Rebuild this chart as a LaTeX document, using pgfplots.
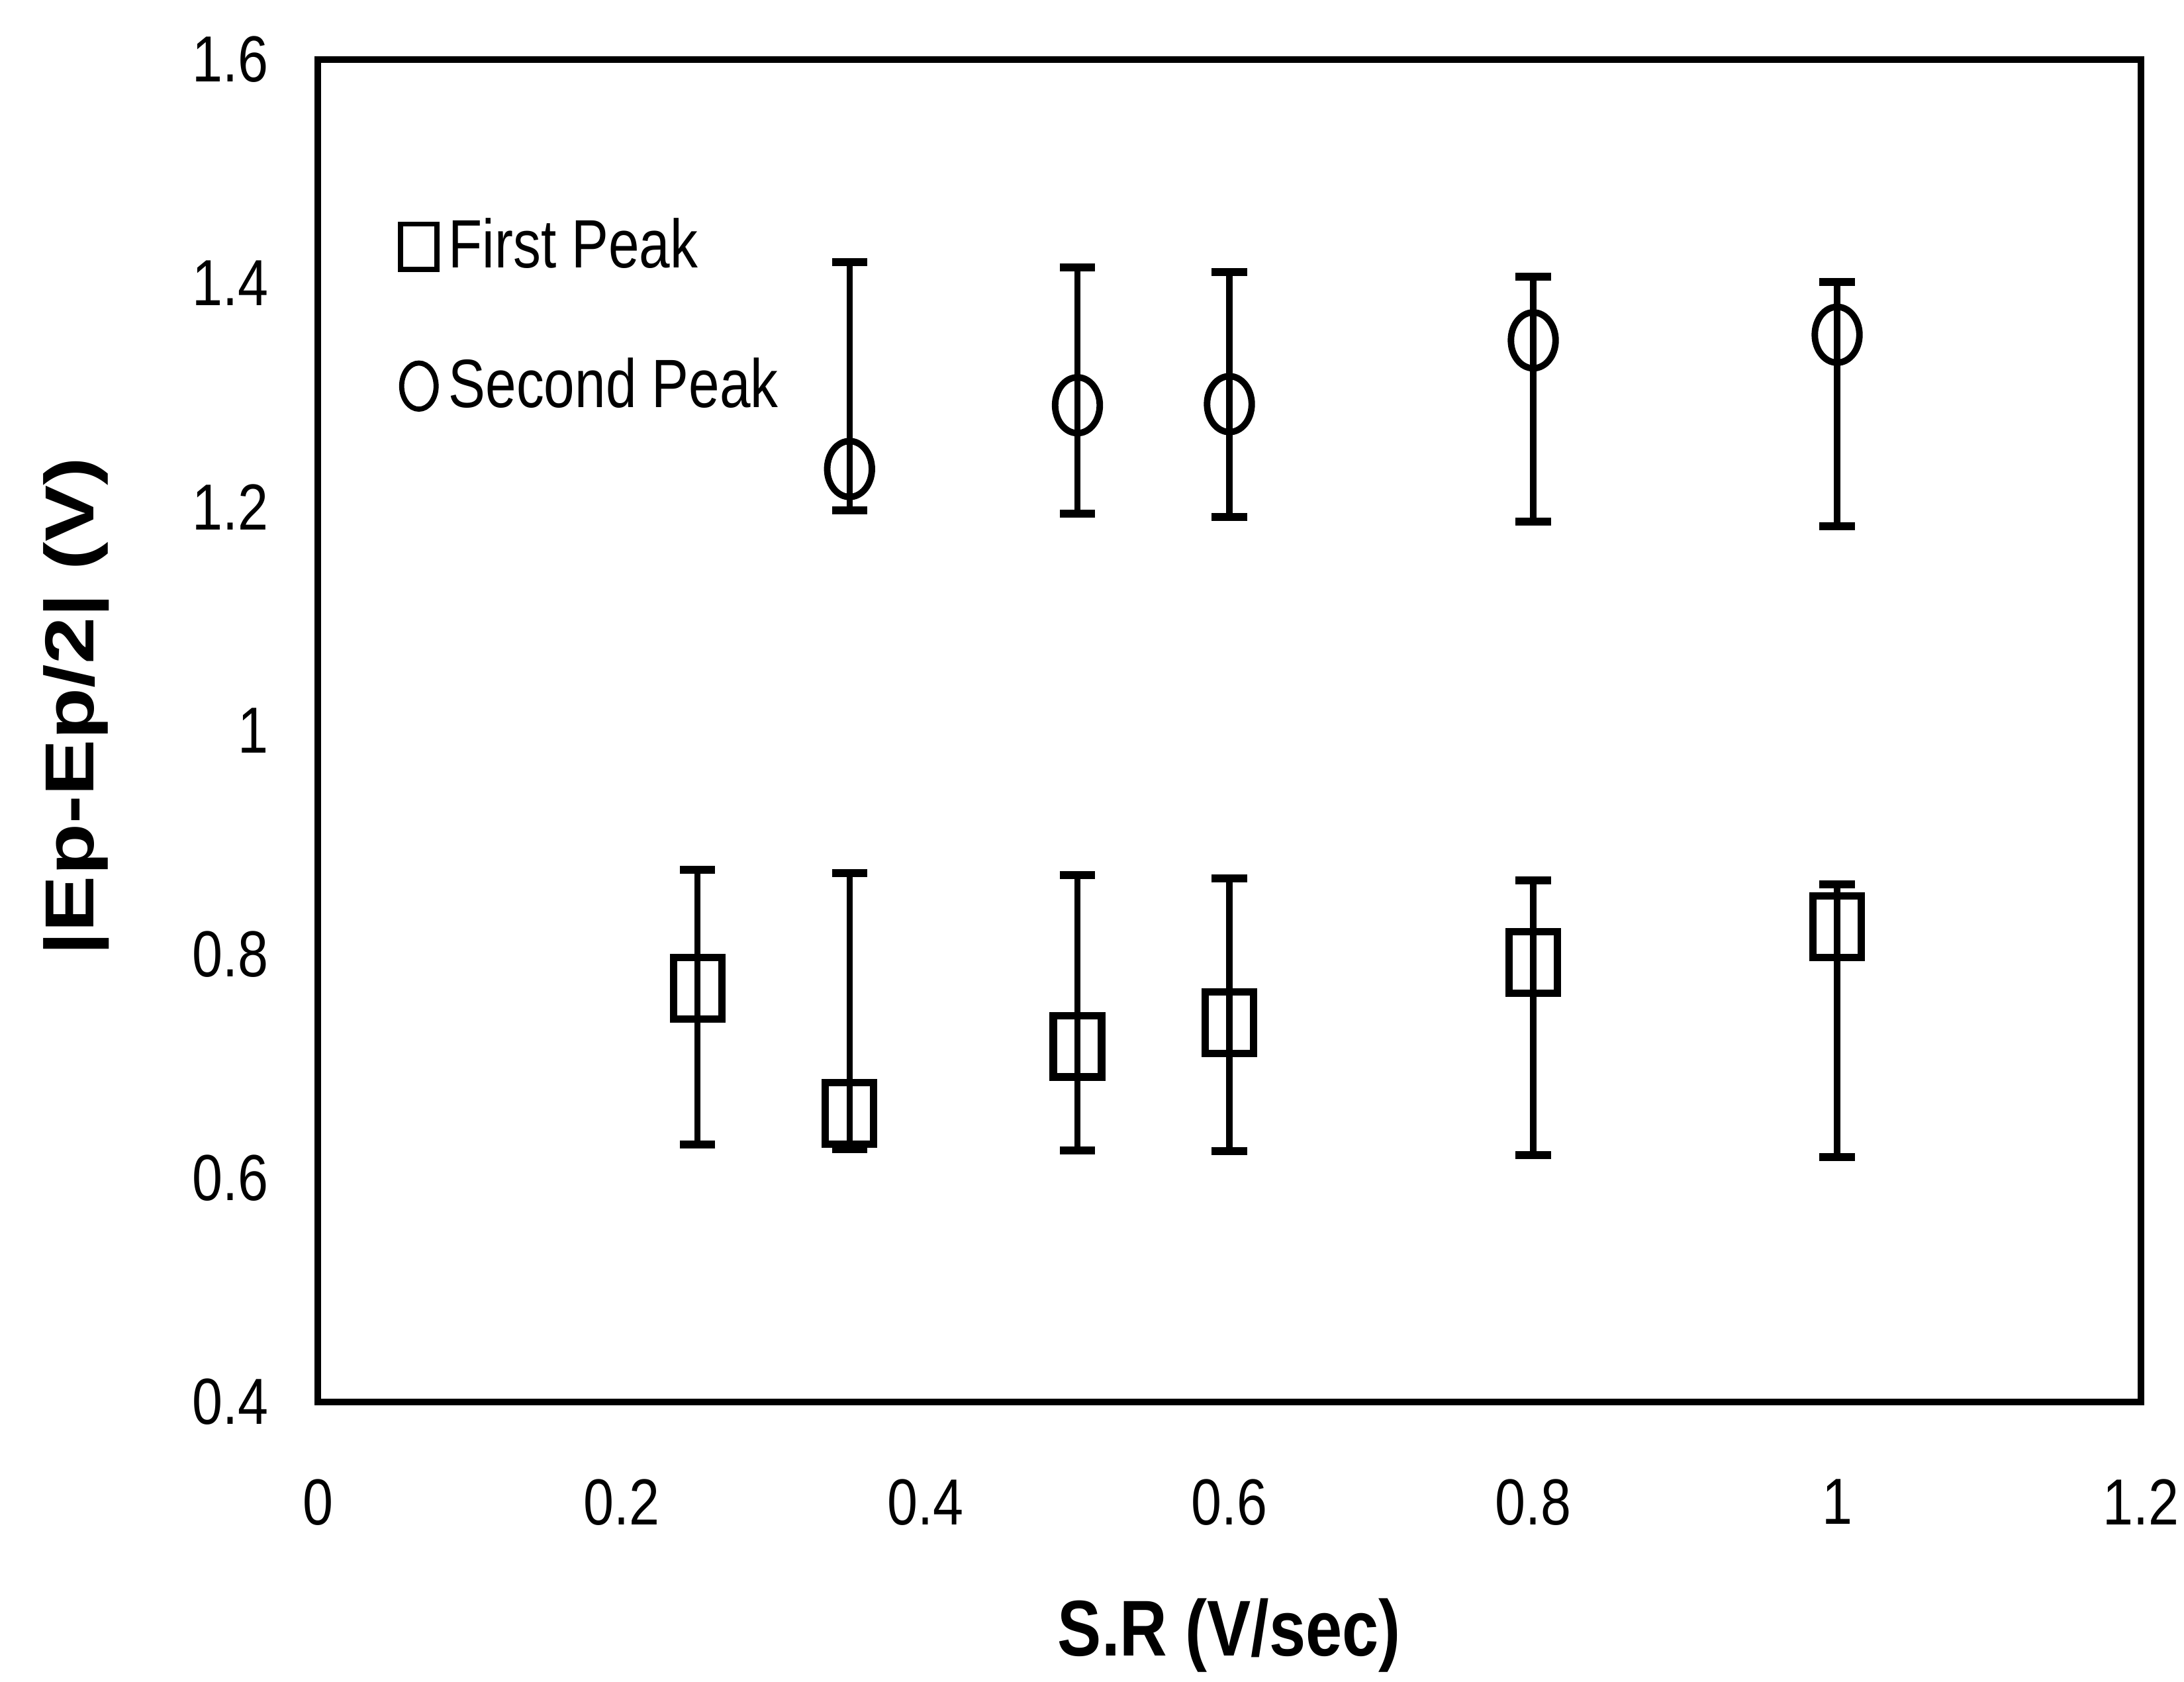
\documentclass[border=0pt]{standalone}
\usepackage{fontspec}
\setmainfont{Liberation Sans}[FakeStretch=0.84]
\newfontfamily\legendfont{Liberation Sans}[FakeStretch=0.81]
\newfontfamily\xlabelfont{Liberation Sans}[FakeStretch=0.83]
\newfontfamily\ylabelfont{Liberation Sans}[FakeStretch=1.22]
\usepackage{pgfplots}
\usepackage{pgfplotstable}
\pgfplotsset{compat=1.18}

\pgfplotstableread{
x     y      ep     em
0.25  0.770  0.106  0.140
0.35  0.658  0.215  0.032
0.50  0.718  0.153  0.093
0.60  0.739  0.129  0.115
0.80  0.793  0.073  0.172
1.00  0.825  0.038  0.206
}\firstpeak

\pgfplotstableread{
x     y      ep     em
0.35  1.234  0.185  0.037
0.50  1.291  0.123  0.097
0.60  1.292  0.118  0.101
0.80  1.349  0.057  0.162
1.00  1.354  0.047  0.171
}\secondpeak

\begin{document}
\begin{tikzpicture}
\path[use as bounding box] (-2.4,-2.11) rectangle (14.095,10.59);
\begin{axis}[
  at={(0,0)}, anchor=south west,
  scale only axis, width=13.77cm, height=10.14cm,
  xmin=0, xmax=1.2, ymin=0.4, ymax=1.6,
  xtick={0,0.2,0.4,0.6,0.8,1,1.2},
  ytick={0.4,0.6,0.8,1,1.2,1.4,1.6},
  major tick length=0pt,
  axis line style={line width=1.3pt},
  /pgf/number format/assume math mode=true,
  tick label style={font=\fontsize{14}{14}\selectfont},
  xticklabel style={yshift=-0.46cm},
  yticklabel style={xshift=-0.25cm},
  xlabel={S.R (V/sec)},
  ylabel={|Ep-Ep/2| (V)},
  xlabel style={at={(axis description cs:0.5,-0.174)},anchor=center,font=\xlabelfont\bfseries\fontsize{17}{17}\selectfont},
  ylabel style={at={(axis description cs:-0.1325,0.518)},anchor=center,font=\ylabelfont\bfseries\fontsize{14.9}{14.9}\selectfont},
  legend style={draw=none, fill=none, inner sep=0pt,
    at={(axis description cs:0.045,0.891)}, anchor=north west,
    font=\legendfont\fontsize{14.7}{14.7}\selectfont, row sep=0.45cm,
    nodes={inner sep=2.5pt}},
  legend cell align=left,
]
\addplot[black, only marks, mark=square, mark size=5.2pt,
  mark options={yscale=1.27, line width=1.6pt},
  legend image code/.code={\draw[black, mark=square, mark size=3.9pt, mark options={yscale=1.25, line width=1.1pt}] plot coordinates {(0.15cm,0cm)};},
  error bars/.cd, y dir=both, y explicit,
  error bar style={line width=1.3pt},
  error mark options={rotate=90, line width=1.7pt, mark size=3.8pt},
  ]
  table[x=x, y=y, y error plus=ep, y error minus=em] {\firstpeak};
\addlegendentry{First Peak}
\addplot[black, only marks, mark=o, mark size=4.8pt,
  mark options={yscale=1.25, line width=1.4pt},
  legend image code/.code={\draw[black, mark=o, mark size=3.7pt, mark options={yscale=1.34, line width=1.1pt}] plot coordinates {(0.15cm,0cm)};},
  error bars/.cd, y dir=both, y explicit,
  error bar style={line width=1.3pt},
  error mark options={rotate=90, line width=1.7pt, mark size=3.8pt},
  ]
  table[x=x, y=y, y error plus=ep, y error minus=em] {\secondpeak};
\addlegendentry{Second Peak}
\end{axis}
\end{tikzpicture}
\end{document}
